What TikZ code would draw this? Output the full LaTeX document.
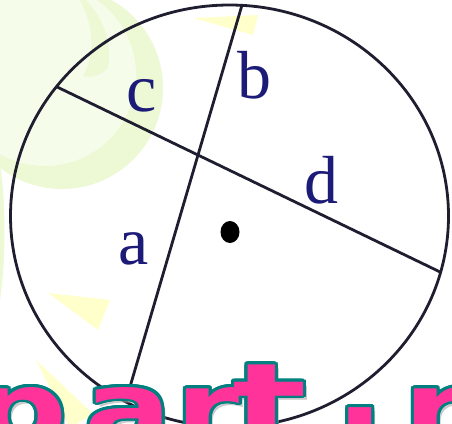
\documentclass[tikz,border=0pt]{standalone}
\usepackage{fontspec}
\setmainfont{Liberation Serif}
\newfontfamily\wmfont{DejaVu Sans}
\usetikzlibrary{intersections,calc}
\definecolor{lblblue}{RGB}{28,28,120}
\definecolor{linecol}{RGB}{30,30,48}
\definecolor{blobout}{RGB}{237,248,212}
\definecolor{blobin}{RGB}{246,252,234}
\definecolor{triyel}{RGB}{255,255,204}
\definecolor{wmpink}{RGB}{255,51,153}
\definecolor{wmteal}{RGB}{0,128,128}
\tikzset{
  geoline/.style={draw=linecol, line width=2.8pt},
  lbl/.style={text=lblblue, inner sep=0pt, font=\fontsize{68}{68}\selectfont},
  wm/.style={inner sep=0pt, anchor=base west, xscale=1.3, font=\wmfont\bfseries\fontsize{100}{100}\selectfont},
  tri/.style={fill=triyel, draw=none}
}
\newcommand\wmword{p\kern13.4pt a\kern2.5pt r\kern-5.8pt \scalebox{1.2}[1.12]{t}\kern22.2pt \raisebox{17pt}{.}\kern14.2pt r}
\begin{document}
\begin{tikzpicture}[x=1pt,y=-1pt]
\useasboundingbox (0,0) rectangle (452,423);
\clip (0,0) rectangle (452,423);
% background decorations
\fill[blobout] (62,88) circle [radius=101pt];
\fill[blobin] (45,75) circle [radius=91pt];
\fill[blobout] (86,0) .. controls (104,18) and (112,45) .. (108,68)
  .. controls (100,76) and (90,78) .. (83,76)
  .. controls (92,60) and (98,35) .. (80,0) -- cycle;
\fill[blobout] (0,165) .. controls (6,200) and (6,260) .. (0,300) -- cycle;
\fill[tri] (193,18) -- (258,15) -- (253,35) -- cycle;
\fill[tri] (48,293) -- (110,300) -- (98,330) -- cycle;
\fill[tri] (36,360) -- (93,414) -- (70,428) -- cycle;
% circle
\coordinate (O) at (229.5,216);
\draw[geoline, name path=ell] (O) ellipse [x radius=219pt, y radius=211pt];
% chords
\path[name path=cdline] (0,59.4) -- (452,277.7);
\path[name path=abline] (250.8,-25) -- (114.4,440);
\path[name intersections={of=ell and cdline, name=cd, sort by=cdline}];
\path[name intersections={of=ell and abline, name=ab, sort by=abline}];
\draw[geoline] (cd-1) -- (cd-2);
\draw[geoline] (ab-1) -- (ab-2);
% centre dot
\fill[black] (230,232) ellipse [x radius=9.5pt, y radius=11pt];
% labels
\node[lbl] (la) at (134,249) {a};
\node[lbl] (lb) at (254,75) {b};
\node[lbl] (lc) at (141.5,95.5) {c};
\node[lbl] (ld) at (321,180) {d};
% watermark
\coordinate (wmpos) at (-26,443);
\node[wm, text=black!35, opacity=0.6] (wmshadow) at ($(wmpos)+(4pt,-4pt)$) {\wmword};
\foreach \a in {0,20,...,340}{
  \node[wm, text=wmteal] (wmo\a) at ($(wmpos)+(\a:3pt)$) {\wmword};
}
\node[wm, text=wmpink] (wmtext) at (wmpos) {\wmword};
\end{tikzpicture}
\end{document}
